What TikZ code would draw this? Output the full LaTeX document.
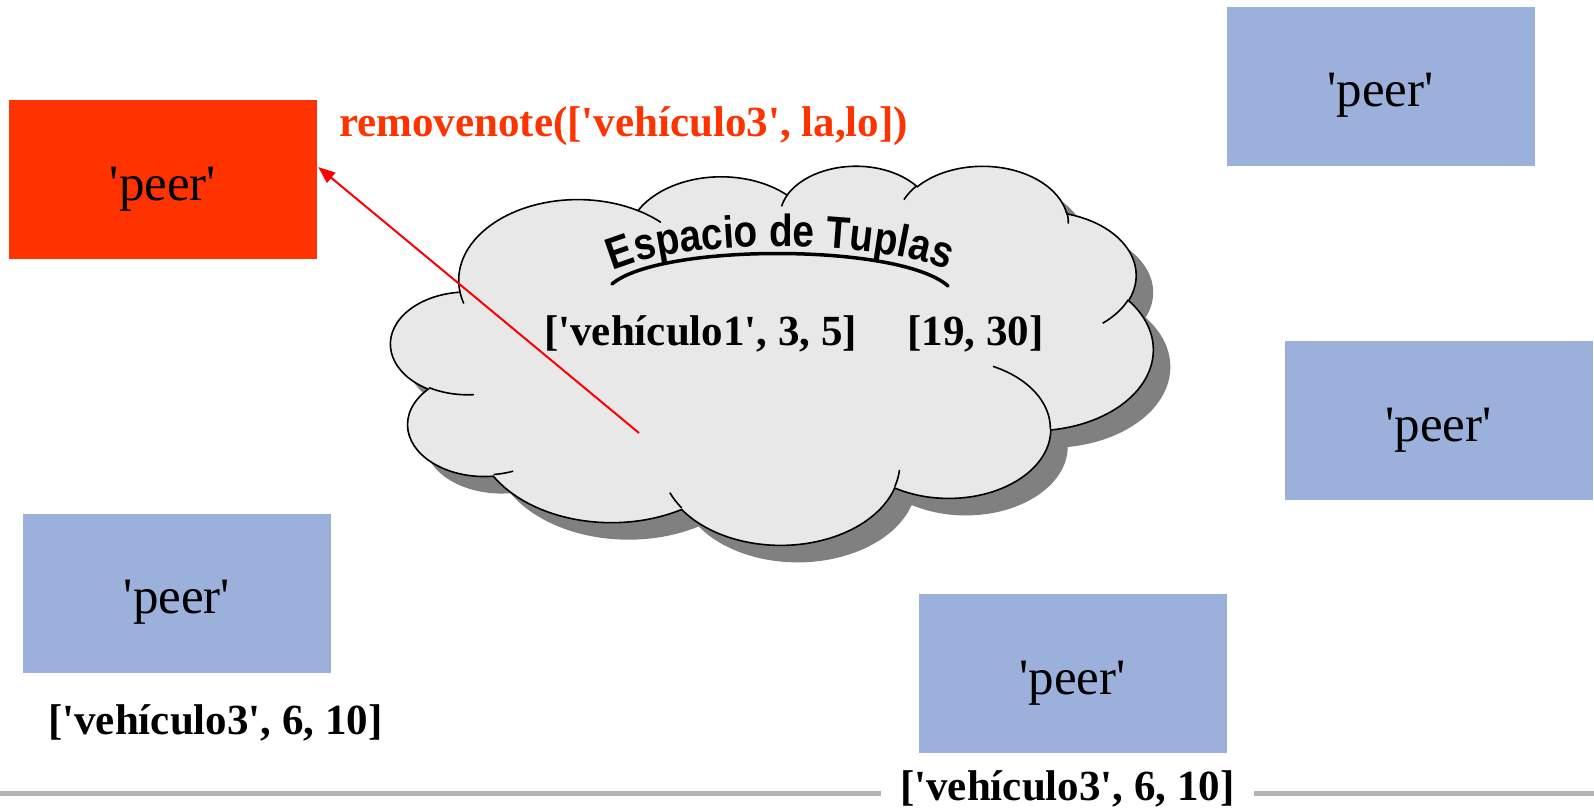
\documentclass[tikz,border=0pt]{standalone}
\usepackage{fontspec}
\newfontfamily\serif{Liberation Serif}
\newfontfamily\fwfont[FakeStretch=0.86]{Liberation Sans}
\usetikzlibrary{arrows.meta,decorations.text}
\definecolor{peerblue}{RGB}{155,176,218}
\definecolor{remred}{RGB}{255,51,0}
\definecolor{cloudfill}{RGB}{232,232,232}
\definecolor{shadowgray}{RGB}{128,128,128}
\definecolor{rulegray}{RGB}{179,179,179}
\tikzset{
  carc/.style n args={4}{x radius=#1, y radius=#2,
    start angle={cst(#1,#2,#3)}, delta angle={cdt(#1,#2,#3,#4)}},
  peer/.style={fill=peerblue, minimum width=308pt, minimum height=159pt,
    inner sep=0pt, font=\serif\fontsize{51}{51}\selectfont,
    text height=41pt, text depth=0pt},
  redpeer/.style={peer, fill=remred},
  tuple/.style={inner sep=0pt, anchor=base west,
    font=\serif\fontsize{43}{43}\selectfont\bfseries},
  cloudline/.style={draw=black, line width=1.6pt},
  redarrow/.style={draw=red, line width=2pt, -{Triangle[length=17pt,width=13pt]}},
  rule/.style={draw=rulegray, line width=5pt}
}
\newcommand\cloudbody[2]{%
  \begin{scope}[shift={#1}, x=1.76389pt, y=-0.87731pt]
    \path[#2] (39.00,143.70)
      arc[carc={67.53}{91.90}{-190.4875}{123.7805}]
      arc[carc={53.33}{72.67}{-144.1024}{89.9452}]
      arc[carc={43.65}{59.45}{-145.8079}{99.7230}]
      arc[carc={48.57}{65.95}{-130.9861}{117.2417}]
      arc[carc={53.33}{72.73}{-78.7089}{109.0269}]
      arc[carc={67.75}{92.20}{-46.2673}{130.2690}]
      arc[carc={57.85}{78.67}{0.6250}{114.0333}]
      arc[carc={67.52}{92.15}{22.4516}{115.1726}]
      arc[carc={77.20}{105.43}{66.2426}{75.7110}]
      arc[carc={43.60}{59.18}{-274.9421}{146.7356}]
      arc[carc={43.45}{59.45}{-246.8285}{152.5189}]
      -- cycle;
  \end{scope}}
\newcommand\cloudstubs[1]{%
  \begin{scope}[shift={#1}, x=1.76389pt, y=-0.87731pt]
    \path[cloudline]
      (46.93,261.77) arc[carc={43.45}{59.45}{86.742}{26.430}]
      (69.28,348.99) arc[carc={43.60}{59.18}{73.610}{11.447}]
      (164.78,390.90) arc[carc={67.52}{92.15}{137.624}{14.081}]
      (288.27,347.51) arc[carc={67.52}{92.15}{6.453}{15.998}]
      (341.29,229.54) arc[carc={57.85}{78.67}{-70.292}{70.917}]
      (417.98,153.54) arc[carc={53.33}{72.73}{30.318}{27.752}]
      (383.24,54.26) arc[carc={48.57}{65.95}{-13.744}{14.859}]
      (290.78,39.52) arc[carc={48.57}{65.95}{-149.181}{18.195}]
      (221.41,47.20) arc[carc={43.65}{59.45}{-163.494}{17.686}]
      (140.00,51.92) arc[carc={67.53}{91.90}{-66.707}{12.319}]
      (41.27,157.89) arc[carc={67.53}{91.90}{157.654}{11.858}];
  \end{scope}}
\begin{document}
\begin{tikzpicture}[x=1pt, y=1pt,
  declare function={cst(\w,\h,\a)=atan2(\w*sin(\a),\h*cos(\a));
                    cdt(\w,\h,\a,\s)=mod(cst(\w,\h,\a+\s)-cst(\w,\h,\a)+720,360);}]
\useasboundingbox (0,0) rectangle (1594,-809);
\fill[white] (0,0) rectangle (1594,-809);

% footer rule
\draw[rule] (0,-793) -- (1594,-793);

% peers
\node[redpeer] (red) at (163,-179.5) {'peer'};
\node[peer] (p1) at (1380.5,-86) {'peer'};
\node[peer] (p2) at (1438.5,-420.5) {'peer'};
\node[peer] (p3) at (177,-593) {'peer'};
\node[peer] (p4) at (1072.5,-673.5) {'peer'};

% cloud
\cloudbody{(408,-182)}{fill=shadowgray}
\cloudbody{(391,-165)}{fill=cloudfill, cloudline}
\cloudstubs{(391,-165)}

% cloud title
\path[decorate, decoration={text along path, text align=center,
  text={|\fwfont\bfseries\fontsize{45}{45}\selectfont|Espacio de Tuplas}}]
  (596,-281) .. controls (648,-235) and (912,-235) .. (964,-281);
\draw[line width=3.5pt, line cap=round]
  (612,-284) .. controls (660,-243) and (900,-243) .. (948,-286);

% tuples
\node[tuple] (t1) at (544,-345) {['vehículo1', 3, 5]};
\node[tuple] (t2) at (907,-345) {[19, 30]};
\node[tuple] (l1) at (48,-734) {['vehículo3', 6, 10]};
\node[tuple, fill=white, inner xsep=19pt, inner ysep=3pt] (l2) at (881,-800) {['vehículo3', 6, 10]};
\node[tuple, text=remred] (rm) at (339,-136) {removenote(['vehículo3', la,lo])};

% arrow
\coordinate (tail) at (639,-433);
\coordinate (tip) at ([xshift=1pt,yshift=12.5pt]red.east);
\draw[redarrow] (tail) -- (tip);
\end{tikzpicture}
\end{document}
